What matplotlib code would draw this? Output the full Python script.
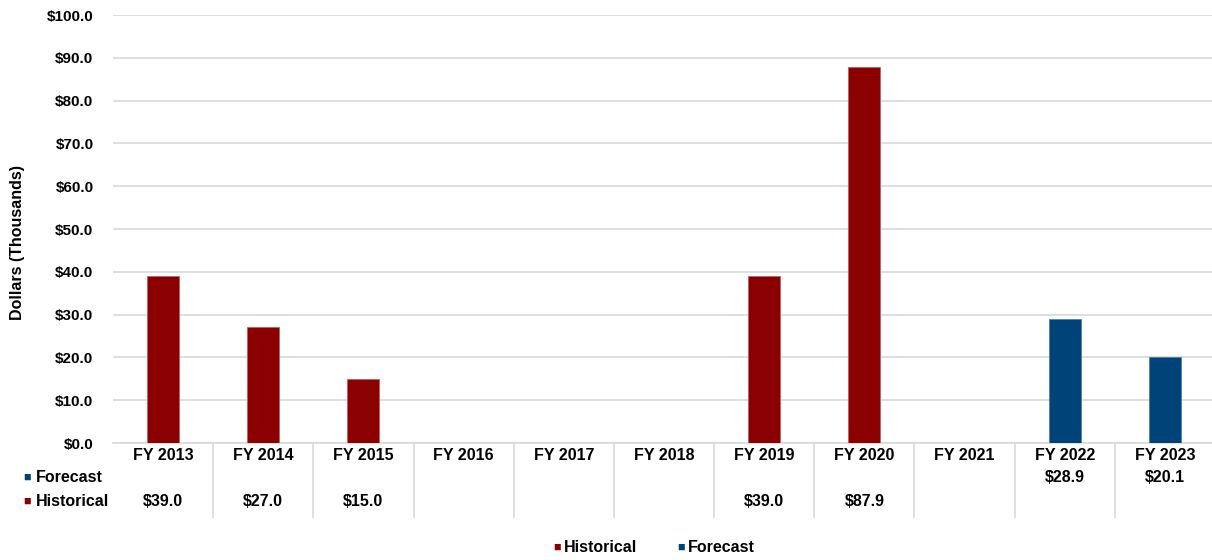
import matplotlib
matplotlib.use('Agg')
import numpy as np
import matplotlib.pyplot as plt
from matplotlib.transforms import blended_transform_factory
from matplotlib.lines import Line2D

plt.rcParams['font.family'] = ['Liberation Sans', 'DejaVu Sans']

years = ['FY 2013', 'FY 2014', 'FY 2015', 'FY 2016', 'FY 2017', 'FY 2018',
         'FY 2019', 'FY 2020', 'FY 2021', 'FY 2022', 'FY 2023']
historical = [39.0, 27.0, 15.0, None, None, None, 39.0, 87.9, None, None, None]
forecast = [None, None, None, None, None, None, None, None, None, 28.9, 20.1]
yticks = [0, 10, 20, 30, 40, 50, 60, 70, 80, 90, 100]

RED = '#8B0000'
BLUE = '#004379'
W, H = 1212, 560
FS = 11.5

fig = plt.figure(figsize=(W / 100, H / 100), dpi=100)
ax = fig.add_axes([113 / W, 117 / H, 1102 / W, 428 / H])

x = np.arange(len(years))
hist_vals = [v if v is not None else 0 for v in historical]
fc_vals = [v if v is not None else 0 for v in forecast]
ax.bar(x, hist_vals, width=0.32, color=RED, edgecolor='#C06060', linewidth=0.6, zorder=3)
ax.bar(x, fc_vals, width=0.32, color=BLUE, edgecolor='#5080A8', linewidth=0.6, zorder=3)

ax.set_xlim(-0.5, len(years) - 0.5)
ax.set_ylim(0, 100)
ax.set_yticks(yticks)
ax.set_yticklabels(['${:.1f}'.format(t) for t in yticks], fontsize=11, fontweight='bold')
ax.tick_params(axis='y', length=0, pad=14)
ax.set_xticks([])
ax.grid(axis='y', color='#D9D9D9', linewidth=1.2, zorder=0)
for s in ['top', 'right', 'left']:
    ax.spines[s].set_visible(False)
ax.spines['bottom'].set_color('#D9D9D9')
ax.spines['bottom'].set_linewidth(1.2)

fig.text(18 / W, 1 - 243 / H, 'Dollars (Thousands)', rotation=90, ha='center', va='center',
         fontsize=11.5, fontweight='bold')

# data table below the axis
tr = blended_transform_factory(ax.transData, fig.transFigure)
for i, yr in enumerate(years):
    fig.text(i, 1 - 455 / H, yr, transform=tr, ha='center', va='center', fontsize=FS, fontweight='bold')
    if forecast[i] is not None:
        fig.text(i, 1 - 478 / H, '${:.1f}'.format(forecast[i]), transform=tr, ha='center',
                 va='center', fontsize=FS, fontweight='bold')
    if historical[i] is not None:
        fig.text(i, 1 - 502 / H, '${:.1f}'.format(historical[i]), transform=tr, ha='center',
                 va='center', fontsize=FS, fontweight='bold')
for i in range(1, len(years)):
    fig.add_artist(Line2D([i - 0.5, i - 0.5], [1 - 443 / H, 1 - 517 / H], transform=tr,
                          color='#D9D9D9', linewidth=1.2))

for label, color, yy in [('Forecast', BLUE, 478), ('Historical', RED, 502)]:
    fig.text(23 / W, 1 - yy / H, '\u25a0', color=color, ha='left', va='center', fontsize=9)
    fig.text(36 / W, 1 - yy / H, label, ha='left', va='center', fontsize=FS, fontweight='bold')

# legend
for label, color, xx in [('Historical', RED, 553), ('Forecast', BLUE, 677)]:
    fig.text(xx / W, 1 - 548 / H, '\u25a0', color=color, ha='left', va='center', fontsize=9)
    fig.text((xx + 11) / W, 1 - 548 / H, label, ha='left', va='center', fontsize=FS, fontweight='bold')

fig.savefig('out.png', dpi=100)
